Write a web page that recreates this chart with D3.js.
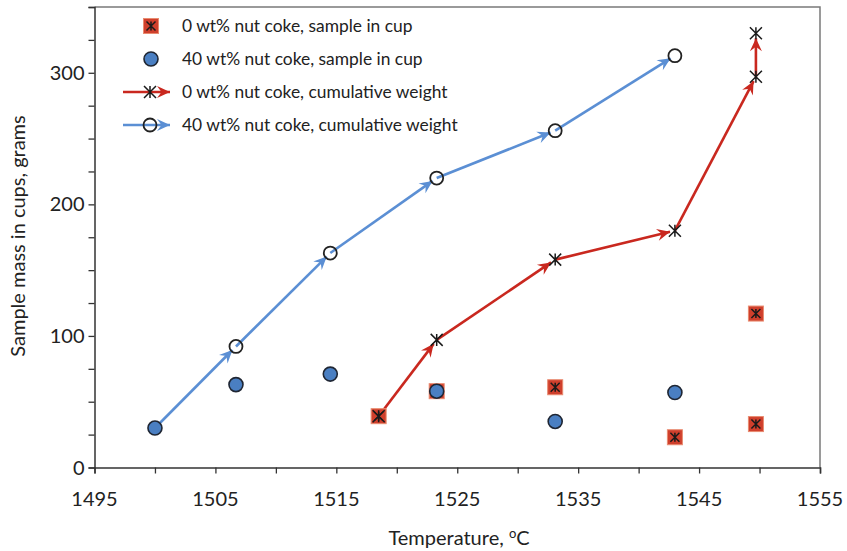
<!DOCTYPE html>
<html lang="en">
<head>
<meta charset="UTF-8">
<title>Sample mass in cups vs temperature</title>
<script src="https://d3js.org/d3.v7.min.js"></script>
<style>
    body { margin: 0; background: #fff; }
    svg { display: block; font-family: Lato, "Open Sans", sans-serif; }
    .tick-label { font-size: 20px; fill: #222; }
    .axis-title { font-size: 20px; fill: #222; }
    .legend-text { font-size: 17.4px; fill: #222; }
</style>
</head>
<body>
<svg width="847" height="551"></svg>
<script>
// temperatures (oC) and masses (g)
const tempNoCoke = [1518.5, 1523.3, 1533.1, 1543.0, 1549.7, 1549.7];
const cupNoCoke = [39, 58, 61, 23, 117, 33];
const cumNoCoke = [39, 97, 158, 180, 297, 330];

const tempCoke = [1500, 1506.7, 1514.5, 1523.3, 1533.1, 1543.0];
const cupCoke = [30, 63, 71, 58, 35, 57];
const cumCoke = [30, 92, 163, 220, 256, 313];

const xTicks = [1495, 1505, 1515, 1525, 1535, 1545, 1555];
const yTicks = [0, 100, 200, 300];

const legendLabels = [
    "0 wt% nut coke, sample in cup",
    "40 wt% nut coke, sample in cup",
    "0 wt% nut coke, cumulative weight",
    "40 wt% nut coke, cumulative weight"
];

const RED = "#c9281f", BLUE = "#5b8fd4";
const SQ_FILL = "#cf3f2c", SQ_EDGE = "#e98b70";
const DOT_FILL = "#4a7fc2";

const svg = d3.select("svg");
const plotL = 94.5, plotR = 820, plotT = 7, plotB = 467.5;

const x = d3.scaleLinear().domain([1495, 1555]).range([plotL, plotR]);
const y = d3.scaleLinear().domain([0, 350]).range([plotB, plotT]);

// arrow heads
const defs = svg.append("defs");
[["arrRed", RED], ["arrBlue", BLUE]].forEach(([id, c]) => {
    defs.append("marker")
        .attr("id", id)
        .attr("viewBox", "-14 -7 16 14")
        .attr("refX", 0).attr("refY", 0)
        .attr("markerWidth", 16).attr("markerHeight", 14)
        .attr("markerUnits", "userSpaceOnUse")
        .attr("orient", "auto")
        .append("path")
        .attr("d", "M0,0 L-13,-6 L-8.5,0 L-13,6 Z")
        .attr("fill", c);
});

// plot frame
svg.append("path")
    .attr("d", `M${plotL},${plotT} H${plotR} V${plotB}`)
    .attr("fill", "none").attr("stroke", "#7a7a7a").attr("stroke-width", 1.5);

// axes
const xAxis = svg.append("g").attr("transform", `translate(0,${plotB})`)
    .call(d3.axisBottom(x).tickValues(d3.range(1495, 1556, 5)).tickSize(6).tickFormat(""));
const yAxis = svg.append("g").attr("transform", `translate(${plotL},0)`)
    .call(d3.axisLeft(y).tickValues(d3.range(0, 351, 25)).tickSize(6).tickFormat(""));
[xAxis, yAxis].forEach(g => {
    g.select(".domain").attr("stroke", "#333").attr("stroke-width", 1.5);
    g.selectAll(".tick line").attr("stroke", "#333").attr("stroke-width", 1.3);
});

svg.append("g").selectAll("text").data(xTicks).join("text")
    .attr("class", "tick-label")
    .attr("x", d => x(d)).attr("y", 506)
    .attr("text-anchor", "middle")
    .text(d => d);
svg.append("g").selectAll("text").data(yTicks).join("text")
    .attr("class", "tick-label")
    .attr("x", plotL - 10).attr("y", d => y(d) + 7)
    .attr("text-anchor", "end")
    .text(d => d);

const xt = svg.append("text").attr("class", "axis-title")
    .attr("x", 459).attr("y", 545).attr("text-anchor", "middle");
xt.append("tspan").text("Temperature, ");
xt.append("tspan").text("o").attr("font-size", 13).attr("dy", -7);
xt.append("tspan").text("C").attr("dy", 7);

svg.append("text").attr("class", "axis-title")
    .attr("transform", "translate(25,236) rotate(-90)")
    .attr("text-anchor", "middle")
    .text("Sample mass in cups, grams");

// marker drawers
function star(g, cx, cy, r) {
    g.append("path")
        .attr("d", `M${cx - r},${cy - r} L${cx + r},${cy + r} M${cx + r},${cy - r} L${cx - r},${cy + r} M${cx},${cy - r} L${cx},${cy + r}`)
        .attr("stroke", "#1a1a1a").attr("stroke-width", 1.5).attr("fill", "none");
}
function square(g, cx, cy) {
    g.append("rect")
        .attr("x", cx - 7.5).attr("y", cy - 7.5).attr("width", 15).attr("height", 15)
        .attr("fill", SQ_FILL).attr("stroke", SQ_EDGE).attr("stroke-width", 1);
    star(g, cx, cy, 4.5);
}
function dot(g, cx, cy) {
    g.append("circle").attr("cx", cx).attr("cy", cy).attr("r", 7)
        .attr("fill", DOT_FILL).attr("stroke", "#1f2633").attr("stroke-width", 1.6);
}
function ring(g, cx, cy) {
    g.append("circle").attr("cx", cx).attr("cy", cy).attr("r", 6.5)
        .attr("fill", "none").attr("stroke", "#222").attr("stroke-width", 1.8);
}

// cumulative segments with arrows
function arrows(xs, ys, color, id) {
    const g = svg.append("g");
    for (let i = 0; i < xs.length - 1; i++) {
        const x1 = x(xs[i]), y1 = y(ys[i]), x2 = x(xs[i + 1]), y2 = y(ys[i + 1]);
        const len = Math.hypot(x2 - x1, y2 - y1);
        const k = (len - 5) / len;
        g.append("line")
            .attr("x1", x1).attr("y1", y1)
            .attr("x2", x1 + (x2 - x1) * k).attr("y2", y1 + (y2 - y1) * k)
            .attr("stroke", color).attr("stroke-width", 2.6)
            .attr("marker-end", `url(#${id})`);
    }
    return g;
}

arrows(tempCoke, cumCoke, BLUE, "arrBlue");
arrows(tempNoCoke, cumNoCoke, RED, "arrRed");

const pts = svg.append("g");
tempNoCoke.forEach((t, i) => square(pts, x(t), y(cupNoCoke[i])));
tempCoke.forEach((t, i) => dot(pts, x(t), y(cupCoke[i])));
tempNoCoke.forEach((t, i) => star(pts, x(t), y(cumNoCoke[i]), 6));
tempCoke.forEach((t, i) => { if (i > 0) ring(pts, x(t), y(cumCoke[i])); });

// legend
const lg = svg.append("g");
const rowY = [26, 59, 92, 125];
square(lg, 151, rowY[0]);
dot(lg, 151, rowY[1]);
lg.append("line").attr("x1", 123).attr("y1", rowY[2]).attr("x2", 170).attr("y2", rowY[2])
    .attr("stroke", RED).attr("stroke-width", 2.6).attr("marker-end", "url(#arrRed)");
star(lg, 150, rowY[2], 6);
lg.append("line").attr("x1", 123).attr("y1", rowY[3]).attr("x2", 170).attr("y2", rowY[3])
    .attr("stroke", BLUE).attr("stroke-width", 2.6).attr("marker-end", "url(#arrBlue)");
ring(lg, 150, rowY[3]);
lg.selectAll("text").data(legendLabels).join("text")
    .attr("class", "legend-text")
    .attr("x", 182)
    .attr("y", (d, i) => rowY[i] + 6)
    .text(d => d);
</script>
</body>
</html>
